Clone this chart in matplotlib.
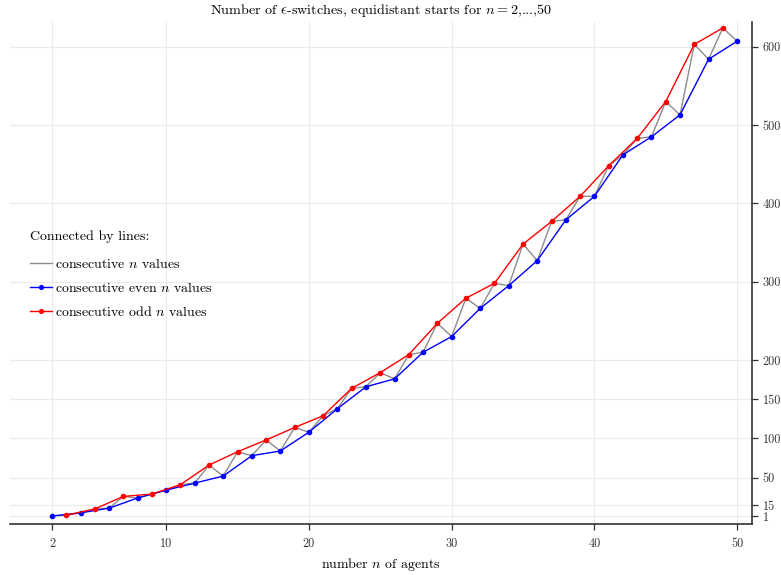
import matplotlib
matplotlib.use("Agg")
import matplotlib.pyplot as plt
from matplotlib.lines import Line2D

# number of agents and epsilon-switch counts
n_agents = list(range(2, 51))
switches = [1, 2, 5, 10, 11, 26, 24, 29, 34, 41,
            43, 66, 52, 83, 78, 98, 84, 114, 108, 129,
            138, 164, 166, 184, 176, 207, 210, 247, 230, 279,
            266, 298, 295, 348, 327, 377, 379, 409, 409, 448,
            462, 483, 485, 530, 513, 603, 584, 624, 607]

x_ticks = [2, 10, 20, 30, 40, 50]
y_ticks = [1, 15, 50, 100, 150, 200, 300, 400, 500, 600]

legend_title = "Connected by lines:"
legend_labels = ["consecutive $n$ values",
                 "consecutive even $n$ values",
                 "consecutive odd $n$ values"]

plt.rcParams["font.family"] = "cmr10"
plt.rcParams["mathtext.fontset"] = "cm"
plt.rcParams["axes.unicode_minus"] = False

even_n = [n for n in n_agents if n % 2 == 0]
even_v = [v for n, v in zip(n_agents, switches) if n % 2 == 0]
odd_n = [n for n in n_agents if n % 2 == 1]
odd_v = [v for n, v in zip(n_agents, switches) if n % 2 == 1]

fig = plt.figure(figsize=(7.81, 5.75), dpi=100)
ax = fig.add_axes([0.0128, 0.0887, 0.9502, 0.873])

ax.plot(n_agents, switches, color="#8c8c8c", lw=1.0, zorder=2)
ax.plot(even_n, even_v, color="#0000ff", lw=1.0, marker="o", ms=3, zorder=3)
ax.plot(odd_n, odd_v, color="#ff0000", lw=1.0, marker="o", ms=3, zorder=3)

ax.set_xlim(-0.94, 51.05)
ax.set_ylim(-9.2, 631.5)
ax.set_xticks(x_ticks)
ax.set_yticks(y_ticks)
ax.yaxis.tick_right()
ax.grid(True, color="#ebebeb", lw=0.8, zorder=0)

for s in ["top", "left"]:
    ax.spines[s].set_visible(False)
for s in ["bottom", "right"]:
    ax.spines[s].set_color("#333333")
    ax.spines[s].set_linewidth(1.2)
ax.tick_params(axis="both", direction="out", length=4, width=0.9,
               color="#333333", labelsize=8.8, labelcolor="#333333")
ax.tick_params(axis="x", pad=6)

ax.set_title(r"Number of $\epsilon$-switches, equidistant starts for $n=2$,...,50",
             fontsize=10.2, pad=6)
ax.set_xlabel("number $n$ of agents", fontsize=10, labelpad=4)

handles = [Line2D([], [], color="#8c8c8c", lw=1.0),
           Line2D([], [], color="#0000ff", lw=1.0, marker="o", ms=3),
           Line2D([], [], color="#ff0000", lw=1.0, marker="o", ms=3)]
leg = ax.legend(handles, legend_labels, title=legend_title,
                loc="upper left", bbox_to_anchor=(17 / 781, 1 - 218 / 575),
                bbox_transform=fig.transFigure, frameon=False,
                fontsize=10, title_fontsize=10, alignment="left",
                handlelength=1.6, handletextpad=0.25, labelspacing=0.72,
                markerscale=0.9)
leg._legend_box.sep = 10

fig.savefig("out.png", dpi=100)
